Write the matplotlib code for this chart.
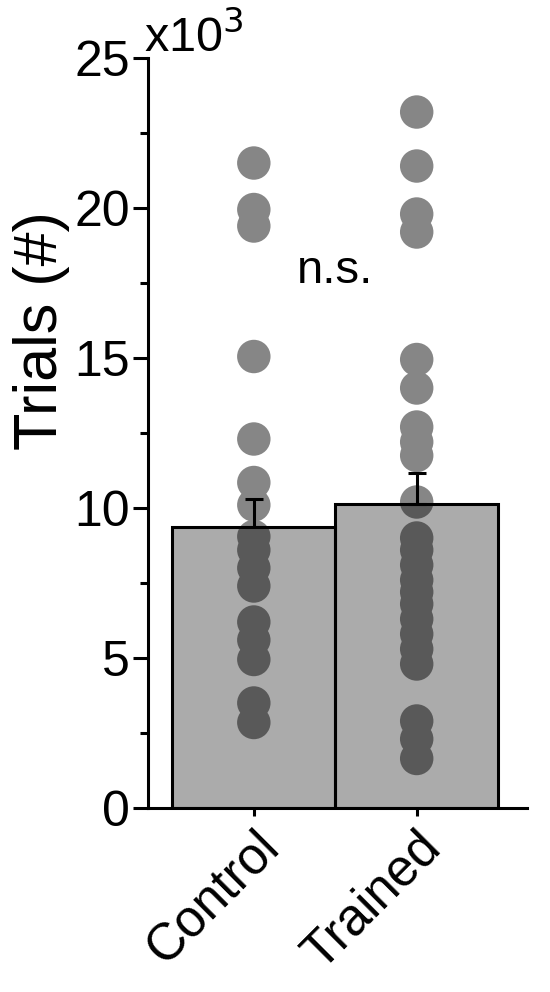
import matplotlib
matplotlib.use("Agg")
import matplotlib.pyplot as plt
import numpy as np

plt.rcParams['font.family'] = ['Liberation Sans', 'DejaVu Sans']

categories = ["Control", "Trained"]
bar_means = [9.37, 10.15]          # x10^3 trials
bar_sem = [0.93, 1.02]
control_pts = [21.5, 19.95, 19.4, 15.05, 12.3, 10.85, 10.1, 9.05, 8.6, 8.0,
               7.4, 6.2, 5.6, 4.95, 3.5, 2.85]
trained_pts = [23.2, 21.4, 19.8, 19.2, 14.95, 14.0, 12.7, 12.2, 11.75, 10.2,
               9.0, 8.6, 8.1, 7.6, 7.2, 6.8, 6.3, 5.8, 5.3, 4.8, 2.9, 2.3, 1.65]
groups = [control_pts, trained_pts]
yticks = [0, 5, 10, 15, 20, 25]

fig = plt.figure(figsize=(5.5, 9.92), dpi=100)
ax = fig.add_axes([0.269, 0.1855, 0.69, 0.756])

x = np.arange(len(categories))
for xi, pts in zip(x, groups):
    ax.scatter(np.full(len(pts), xi), pts, s=580, color='#868686',
               edgecolors='none', zorder=1)

ax.bar(x, bar_means, width=1.0, color=(0, 0, 0, 0.33), edgecolor='black',
       linewidth=2.2, zorder=2)
ax.errorbar(x, bar_means, yerr=[[0, 0], bar_sem], fmt='none', ecolor='black',
            elinewidth=2.2, capsize=6.5, capthick=2.2, zorder=3)

ax.set_xlim(-0.65, 1.68)
ax.set_ylim(0, 25)
ax.set_yticks(yticks)
ax.set_yticklabels([str(v) for v in yticks])
ax.set_yticks(np.arange(2.5, 25, 5), minor=True)
ax.set_xticks(x)
ax.set_xticklabels(categories, rotation=45, ha='right', rotation_mode='anchor')

for s in ['top', 'right']:
    ax.spines[s].set_visible(False)
for s in ['left', 'bottom']:
    ax.spines[s].set_linewidth(2.2)

ax.tick_params(axis='y', which='major', length=11, width=2.2, labelsize=36, pad=2)
ax.tick_params(axis='y', which='minor', length=6, width=2.2)
ax.tick_params(axis='x', which='major', length=6, width=2.2, labelsize=37, pad=4)

ax.set_ylabel('Trials (#)', fontsize=44)
ax.yaxis.set_label_coords(-0.205, 0.637)
ax.text(-0.01, 0.995, r'x10$^3$', transform=ax.transAxes, fontsize=35,
        ha='left', va='bottom')
ax.text(0.5, 17.9, 'n.s.', fontsize=34, ha='center', va='center')

fig.savefig('out.png', dpi=100)
